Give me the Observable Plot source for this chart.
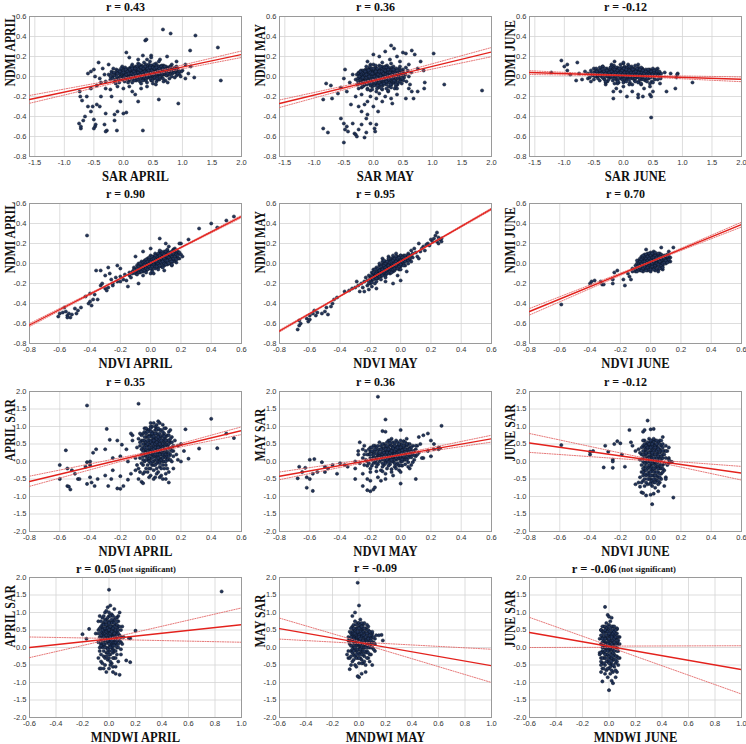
<!DOCTYPE html>
<html><head><meta charset="utf-8">
<script src="https://cdn.jsdelivr.net/npm/d3@7"></script>
<script src="https://cdn.jsdelivr.net/npm/@observablehq/plot@0.6"></script>
<style>
body{margin:0;background:#fff;overflow:hidden}
#grid{position:relative;width:746px;height:744px}
#grid>div{position:absolute}
</style></head><body><div id="grid"></div>
<script>
// ---- tick values ----
const sarTicks = [-1.5, -1.0, -0.5, 0.0, 0.5, 1.0, 1.5, 2.0];
const ndviTicks = [-0.8, -0.6, -0.4, -0.2, 0.0, 0.2, 0.4, 0.6];
const mndwiTicks = [-0.6, -0.4, -0.2, 0.0, 0.2, 0.4, 0.6, 0.8, 1.0];
const ndmiTicks = [-0.8, -0.6, -0.4, -0.2, 0.0, 0.2, 0.4, 0.6];
const sarYTicks = [-2.0, -1.5, -1.0, -0.5, 0.0, 0.5, 1.0, 1.5, 2.0];

// ---- panel titles ----
const titles = ["r = 0.43", "r = 0.36", "r = -0.12", "r = 0.90", "r = 0.95", "r = 0.70",
  "r = 0.35", "r = 0.36", "r = -0.12", "r = 0.05", "r = -0.09", "r = -0.06"];
const notSignificant = [false, false, false, false, false, false, false, false, false, true, false, true];
const xLabels = ["SAR APRIL", "SAR MAY", "SAR JUNE", "NDVI APRIL", "NDVI MAY", "NDVI JUNE",
  "NDVI APRIL", "NDVI MAY", "NDVI JUNE", "MNDWI APRIL", "MNDWI MAY", "MNDWI JUNE"];
const yLabels = ["NDMI APRIL", "NDMI MAY", "NDMI JUNE", "NDMI APRIL", "NDMI MAY", "NDMI JUNE",
  "APRIL SAR", "MAY SAR", "JUNE SAR", "APRIL SAR", "MAY SAR", "JUNE SAR"];

// ---- observations (x, y pairs): spread points, then the dense core ----
const sarApr_ndmiApr = [0.67,0.47, 0.8,0.43, 1.22,0.41, 0.37,0.36, 0.39,0.37, 1.13,0.26, 1.6,0.29, 0.05,0.24, 0.47,0.21, 0.47,0.19, 0.33,0.21, 0.74,0.2, 0.1,0.19, 0.4,0.17, 0.62,0.17, 0.25,0.17, 0.9,0.15, 1.05,0.12,
-0.42,0.14, -0.6,0.03, -0.5,0.07, -0.35,0.08, -0.25,0.12, -0.48,0.0, -0.4,-0.02, -0.55,0.05, -0.32,0.02, -0.3,-0.05,
1.65,-0.04, 1.2,-0.01, 1.14,0.1, 1.0,0.06, 0.93,-0.27, 0.6,-0.23, 1.1,0.03, 1.05,-0.02, 0.97,0.0,
-0.75,-0.47, -0.72,-0.52, -0.72,-0.5, -0.7,-0.24, -0.73,-0.2, -0.74,-0.15, -0.62,-0.2, -0.65,-0.4, -0.68,-0.44, -0.6,-0.3, -0.55,-0.35, -0.5,-0.52, -0.48,-0.5, -0.47,-0.48, -0.5,-0.43, -0.52,-0.3, -0.45,-0.28, -0.4,-0.3, -0.38,-0.2, -0.3,-0.37, -0.32,-0.48, -0.28,-0.54, -0.3,-0.55, -0.15,-0.44, -0.15,-0.38, -0.11,-0.54, -0.1,-0.35, 0.0,-0.37, 0.05,-0.36, -0.05,-0.25, 0.33,-0.54, -0.22,-0.13, -0.3,-0.12, -0.38,-0.06, -0.45,-0.09, -0.55,-0.12, -0.2,-0.2, 0.15,-0.15, 0.2,-0.18, 0.3,-0.12, 0.4,-0.1, 0.55,-0.08, 0.25,-0.25, -0.1,-0.1, 0.0,-0.12, 0.1,-0.1,
-0.25,0.02, -0.22,-0.03, -0.2,0.05, -0.18,0.0, -0.15,-0.05, -0.14,0.03, -0.12,0.07, -0.1,-0.01, -0.08,0.04, -0.07,-0.06, -0.05,0.01, -0.04,0.06, -0.02,-0.03, 0.0,0.02, 0.01,0.08, 0.02,-0.05, 0.04,0.0, 0.05,0.04, 0.06,-0.02, 0.08,0.06, 0.09,0.01, 0.1,-0.04, 0.11,0.03, 0.12,0.09, 0.13,-0.01, 0.14,0.05, 0.15,-0.06, 0.16,0.02, 0.17,0.07, 0.18,-0.02, 0.19,0.04, 0.2,0.0, 0.21,0.1, 0.22,-0.04, 0.23,0.03, 0.24,0.06, 0.25,-0.01, 0.26,0.01, 0.27,0.08, 0.28,-0.05, 0.29,0.04, 0.3,0.02, 0.31,0.11, 0.32,-0.02, 0.33,0.05, 0.34,0.0, 0.35,0.07, 0.36,-0.03, 0.37,0.03, 0.38,0.09, 0.39,0.01, 0.4,-0.06, 0.41,0.05, 0.42,0.02, 0.43,0.12, 0.44,-0.01, 0.45,0.06, 0.46,0.03, 0.47,-0.04, 0.48,0.08, 0.49,0.0, 0.5,0.04, 0.51,0.1, 0.52,-0.02, 0.53,0.06, 0.54,0.02, 0.55,0.13, 0.56,-0.05, 0.57,0.04, 0.58,0.08, 0.59,0.01, 0.6,0.05, 0.61,-0.03, 0.62,0.1, 0.63,0.03, 0.64,0.07, 0.65,-0.01, 0.66,0.05, 0.68,0.11, 0.69,0.02, 0.7,0.08, 0.71,-0.04, 0.72,0.05, 0.74,0.01, 0.75,0.09, 0.77,0.04, 0.78,-0.02, 0.8,0.07, 0.82,0.12, 0.83,0.03, 0.85,0.06, 0.87,-0.01, 0.88,0.09, 0.9,0.04, 0.92,0.07, 0.95,0.02, 0.98,0.05,
0.02,0.03, 0.07,0.01, 0.12,0.04, 0.17,0.0, 0.22,0.05, 0.27,0.03, 0.32,0.06, 0.37,0.0, 0.42,0.04, 0.47,0.07, 0.52,0.03, 0.57,0.0, 0.62,0.05, 0.67,0.02, 0.72,0.07, -0.03,0.0, 0.08,-0.06, 0.18,0.09, 0.28,0.1, 0.38,-0.04, 0.48,0.11, 0.58,-0.03, 0.68,-0.05, 0.15,0.12, 0.25,0.13, 0.35,0.14, 0.45,0.15, 0.6,0.15, -0.13,-0.07, -0.02,0.1, 0.3,-0.07, 0.5,-0.07, 0.75,-0.06, 0.9,0.1];
const sarApr_ndmiAprCore = [-0.2,0.03, -0.18,-0.02, -0.17,0.08, -0.15,0.01, -0.13,-0.03, -0.12,0.04, -0.11,0.0, -0.09,0.06, -0.08,-0.03, -0.06,0.03, -0.05,-0.01, -0.04,0.08, -0.03,0.04, -0.01,-0.02, 0.0,0.06, 0.01,0.0, 0.03,0.09, 0.03,-0.02, 0.04,0.04, 0.06,0.07, 0.06,0.02, 0.07,-0.03, 0.08,0.03, 0.09,0.08, 0.1,0.0, 0.1,0.05, 0.11,-0.02, 0.12,0.02, 0.13,0.07, 0.14,0.0, 0.14,0.1, 0.15,0.03, 0.16,-0.03, 0.16,0.06, 0.17,0.04, 0.18,0.01, 0.19,0.08, 0.19,-0.04, 0.2,0.05, 0.21,0.02, 0.21,-0.01, 0.22,0.07, 0.23,0.0, 0.23,0.1, 0.24,0.03, 0.25,0.06, 0.25,-0.03, 0.26,0.04, 0.27,0.01, 0.27,0.12, 0.28,0.06, 0.29,-0.02, 0.29,0.09, 0.3,0.04, 0.31,0.0, 0.31,0.07, 0.32,0.02, 0.33,0.1, 0.33,-0.04, 0.34,0.05, 0.35,0.02, 0.35,-0.01, 0.36,0.08, 0.37,0.05, 0.38,0.02, 0.38,0.12, 0.39,-0.02, 0.4,0.07, 0.4,0.03, 0.41,0.1, 0.42,-0.01, 0.42,0.06, 0.43,0.03, 0.44,0.09, 0.44,0.0, 0.45,0.04, 0.46,0.11, 0.46,-0.02, 0.47,0.05, 0.48,0.02, 0.49,0.09, 0.49,-0.04, 0.5,0.06, 0.5,0.01, 0.51,0.04, 0.52,0.12, 0.52,0.07, 0.53,-0.01, 0.54,0.05, 0.55,0.09, 0.55,0.02, 0.56,0.06, 0.57,-0.02, 0.57,0.11, 0.58,0.04, 0.59,0.07, 0.6,0.02, 0.6,0.1, 0.61,0.05, 0.62,0.0, 0.63,0.08, 0.64,0.04, 0.65,0.11, 0.65,0.02, 0.66,0.07, 0.67,-0.02, 0.68,0.05, 0.69,0.09, 0.7,0.03, 0.71,0.06, 0.72,0.1, 0.73,0.01, 0.74,0.06, 0.76,0.04, 0.77,0.08, 0.78,0.02, 0.79,0.1, 0.81,0.05, 0.82,0.0, 0.84,0.08, 0.86,0.04, 0.88,0.06, 0.9,0.01, 0.91,0.08, 0.94,0.05,
0.0,0.04, 0.02,0.0, 0.04,0.07, 0.05,0.02, 0.07,0.05, 0.09,0.03, 0.11,0.07, 0.12,0.0, 0.14,0.03, 0.15,0.08, 0.17,0.02, 0.18,0.05, 0.2,0.08, 0.2,0.03, 0.22,0.01, 0.24,0.08, 0.25,0.04, 0.26,0.07, 0.28,0.02, 0.29,0.06, 0.3,0.09, 0.32,0.04, 0.33,0.01, 0.34,0.08, 0.36,0.05, 0.37,0.1, 0.39,0.04, 0.4,0.0, 0.41,0.08, 0.43,0.06, 0.45,0.01, 0.45,0.09, 0.47,0.03, 0.48,0.06, 0.5,0.09, 0.51,0.02, 0.53,0.08, 0.54,0.04, 0.56,0.09, 0.58,0.06, 0.59,0.03, 0.61,0.08, 0.62,0.03, 0.64,0.1, 0.66,0.03, 0.67,0.08, 0.69,0.05, 0.7,0.1, 0.73,0.07, 0.75,0.03, 0.78,0.06, 0.8,0.1, -0.1,0.03, -0.06,0.05, -0.16,0.04, -0.22,0.0, 0.86,0.08, 0.92,0.03];

const sarMay_ndmiMay = [0.3,0.31, 0.35,0.28, 0.0,0.22, 0.1,0.2, 0.4,0.2, 0.5,0.24, 0.55,0.23, 0.65,0.26, 0.7,0.22, 1.02,0.23, 0.2,0.25, 0.28,0.17, 0.45,0.15, 0.6,0.12, 0.75,0.08, 0.85,0.06, 0.8,0.15, -0.1,0.15, -0.05,0.12, 0.15,0.14,
1.84,-0.14, 1.2,-0.08, 0.87,-0.06, 0.86,-0.12, 0.68,-0.22, 0.55,-0.22, 0.75,-0.15, 0.65,-0.15,
-0.85,-0.23, -0.8,-0.07, -0.72,-0.09, -0.6,-0.17, -0.55,-0.11, -0.48,0.07, -0.5,-0.02, -0.4,-0.06, -0.35,0.02, -0.45,-0.15, -0.7,-0.22,
-0.55,-0.42, -0.5,-0.47, -0.48,-0.53, -0.5,-0.66, -0.45,-0.5, -0.43,-0.55, -0.85,-0.52, -0.77,-0.56, -0.35,-0.47, -0.32,-0.57, -0.3,-0.58, -0.28,-0.6, -0.25,-0.53, -0.2,-0.48, -0.15,-0.61, -0.12,-0.56, -0.1,-0.38, -0.05,-0.47, 0.02,-0.52, 0.05,-0.48, 0.03,-0.55, -0.2,-0.35, -0.25,-0.3, -0.15,-0.28, -0.1,-0.25, 0.0,-0.3, 0.05,-0.22, -0.3,-0.2, -0.2,-0.18, -0.05,-0.2, 0.1,-0.17, 0.15,-0.25, 0.2,-0.2, 0.3,-0.22, 0.32,-0.27, 0.25,-0.15, -0.38,-0.28, -0.12,-0.42, 0.08,-0.35, 0.4,-0.18,
-0.3,-0.03, -0.28,0.02, -0.27,-0.08, -0.25,0.04, -0.24,-0.01, -0.22,-0.06, -0.21,0.06, -0.2,-0.11, -0.19,0.01, -0.18,-0.04, -0.17,0.05, -0.16,-0.09, -0.15,0.0, -0.14,-0.03, -0.13,0.07, -0.12,-0.06, -0.11,0.02, -0.1,-0.12, -0.09,0.04, -0.08,-0.02, -0.07,0.08, -0.06,-0.07, -0.05,0.01, -0.04,-0.04, -0.03,0.05, -0.02,-0.1, -0.01,0.0, 0.0,0.06, 0.01,-0.05, 0.02,0.03, 0.03,-0.02, 0.04,0.09, 0.05,-0.08, 0.06,0.01, 0.07,-0.04, 0.08,0.05, 0.09,-0.11, 0.1,0.0, 0.11,0.07, 0.12,-0.06, 0.13,0.03, 0.14,-0.02, 0.15,0.1, 0.16,-0.09, 0.17,0.02, 0.18,-0.04, 0.19,0.06, 0.2,-0.01, 0.21,-0.07, 0.22,0.04, 0.23,0.11, 0.24,-0.03, 0.25,0.01, 0.26,-0.1, 0.27,0.07, 0.28,-0.05, 0.29,0.03, 0.3,0.0, 0.31,0.09, 0.32,-0.06, 0.33,0.05, 0.34,-0.02, 0.35,0.02, 0.36,-0.12, 0.37,0.07, 0.38,-0.04, 0.4,0.04, 0.41,-0.08, 0.42,0.01, 0.44,0.08, 0.45,-0.03, 0.47,0.03, 0.48,-0.07, 0.5,0.05, 0.52,-0.01, 0.54,0.02, 0.56,-0.05, 0.58,0.06, 0.6,0.0, 0.62,-0.08, 0.64,0.04,
-0.2,0.0, -0.15,-0.05, -0.1,0.03, -0.05,-0.03, 0.0,0.0, 0.05,0.03, 0.1,-0.03, 0.15,0.04, 0.2,0.02, 0.25,-0.05, 0.3,0.05, 0.35,-0.06, 0.4,0.0, -0.12,0.1, 0.0,0.12, 0.1,0.11, 0.2,0.1, 0.3,0.13, -0.05,-0.14, 0.05,-0.15, 0.15,-0.13, 0.25,-0.14, 0.4,-0.12, -0.25,-0.12, 0.45,0.1, 0.55,0.09, 0.6,-0.12];
const sarMay_ndmiMayCore = [-0.26,-0.02, -0.25,0.03, -0.24,-0.06, -0.23,0.01, -0.22,-0.03, -0.21,0.04, -0.2,-0.07, -0.2,0.02, -0.19,-0.02, -0.18,0.06, -0.17,-0.05, -0.17,0.0, -0.16,0.03, -0.15,-0.08, -0.15,0.06, -0.14,0.01, -0.13,-0.04, -0.13,0.04, -0.12,-0.01, -0.11,0.06, -0.11,-0.08, -0.1,0.01, -0.09,-0.04, -0.09,0.07, -0.08,0.02, -0.07,-0.06, -0.07,0.04, -0.06,-0.01, -0.05,0.07, -0.05,-0.09, -0.04,0.02, -0.03,-0.05, -0.03,0.08, -0.02,0.0, -0.01,0.04, -0.01,-0.07, 0.0,0.02, 0.01,-0.02, 0.01,0.07, 0.02,-0.09, 0.03,0.04, 0.03,0.0, 0.04,-0.05, 0.05,0.06, 0.05,0.01, 0.06,-0.03, 0.07,0.08, 0.07,0.03, 0.08,-0.07, 0.09,0.01, 0.09,0.05, 0.1,-0.02, 0.11,0.03, 0.11,-0.09, 0.12,0.06, 0.13,-0.04, 0.13,0.01, 0.14,0.08, 0.15,-0.01, 0.15,-0.07, 0.16,0.04, 0.17,0.0, 0.17,0.07, 0.18,-0.05, 0.19,0.02, 0.19,0.09, 0.2,-0.03, 0.21,0.05, 0.21,0.0, 0.22,-0.08, 0.23,0.03, 0.23,0.07, 0.24,-0.02, 0.25,0.04, 0.26,0.0, 0.26,0.09, 0.27,-0.06, 0.28,0.02, 0.29,0.06, 0.29,-0.03, 0.3,0.03, 0.31,-0.08, 0.32,0.01, 0.32,0.07, 0.33,-0.03, 0.34,0.04, 0.35,0.0, 0.36,0.06, 0.37,-0.05, 0.38,0.02, 0.39,0.08, 0.4,-0.02, 0.41,0.03, 0.42,-0.06, 0.43,0.05, 0.44,0.0, 0.46,0.04, 0.47,-0.03, 0.49,0.01, 0.5,0.07, 0.51,-0.04, 0.53,0.03, -0.18,-0.1, -0.1,-0.13, -0.02,-0.13, 0.06,-0.12, 0.14,-0.12, 0.22,-0.12, 0.3,-0.11, 0.38,-0.1, -0.06,0.1, 0.04,0.11, 0.12,0.1, 0.22,0.09, 0.34,0.1,
-0.2,0.04, -0.18,-0.01, -0.16,-0.05, -0.14,0.05, -0.12,0.02, -0.1,-0.05, -0.08,0.06, -0.07,0.0, -0.05,0.04, -0.04,-0.07, -0.02,0.03, -0.01,-0.03, 0.0,0.08, 0.02,0.0, 0.03,-0.06, 0.04,0.05, 0.06,-0.01, 0.07,-0.09, 0.08,0.02, 0.1,0.05, 0.1,-0.06, 0.12,0.01, 0.13,-0.08, 0.14,0.05, 0.16,-0.03, 0.17,0.03, 0.18,-0.07, 0.2,0.06, 0.21,0.02, 0.22,-0.05, 0.24,0.01, 0.25,0.07, 0.26,-0.03, 0.28,0.04, 0.29,-0.08, 0.31,0.02, 0.32,-0.02, 0.34,0.07, 0.35,-0.04, 0.37,0.03, 0.38,-0.08, 0.4,0.06, 0.41,-0.01, 0.43,0.02, 0.45,-0.05, 0.47,0.06, 0.49,-0.02, -0.24,0.0, -0.22,0.05, -0.26,-0.05];

const sarJun_ndmiJun = [-1.22,0.04, -1.05,0.16, -1.0,0.1, -0.95,0.12, -0.95,0.06, -0.9,0.02, -0.78,0.14, -0.75,0.03, -0.8,-0.04, -0.7,-0.03, -0.65,0.05, 0.92,0.03, 0.91,0.02, 0.9,-0.01, 0.88,-0.12, 1.17,-0.06, 0.73,-0.15, 0.8,0.03, 0.7,0.04, 0.62,-0.07, 0.47,-0.41, -0.17,-0.22, -0.17,-0.15, 0.06,-0.2, -0.05,-0.15, 0.25,-0.21, 0.25,-0.18, 0.33,-0.2, 0.35,-0.12, 0.45,-0.18, 0.47,-0.2, 0.5,-0.15, 0.45,-0.1, 0.15,-0.15, 0.0,-0.1, -0.3,-0.08, -0.15,0.15, 0.0,0.13, 0.08,0.12, 0.25,0.12, -0.35,0.1, -0.5,0.08, 0.15,-0.08, 0.3,-0.08, -0.12,-0.12, 0.58,0.08, 0.6,0.02, 0.5,0.06, -0.55,0.03, -0.6,-0.02,
-0.6,0.03, -0.57,-0.01, -0.55,0.06, -0.52,0.01, -0.5,-0.03, -0.48,0.05, -0.46,0.08, -0.44,0.0, -0.42,0.04, -0.4,-0.04, -0.38,0.07, -0.36,0.02, -0.35,0.1, -0.33,-0.02, -0.31,0.05, -0.3,0.01, -0.28,0.08, -0.27,-0.05, -0.25,0.03, -0.24,0.06, -0.22,-0.01, -0.21,0.09, -0.2,0.02, -0.18,-0.04, -0.17,0.05, -0.16,0.11, -0.15,0.0, -0.14,0.07, -0.12,-0.03, -0.11,0.04, -0.1,0.09, -0.09,0.01, -0.08,-0.06, -0.07,0.06, -0.06,0.03, -0.05,0.12, -0.04,-0.02, -0.03,0.05, -0.02,0.08, -0.01,0.0, 0.0,0.04, 0.01,-0.05, 0.02,0.1, 0.03,0.02, 0.04,0.06, 0.05,-0.03, 0.06,0.03, 0.07,0.09, 0.08,-0.01, 0.09,0.05, 0.1,0.01, 0.11,-0.06, 0.12,0.07, 0.13,0.02, 0.14,0.1, 0.15,-0.02, 0.16,0.04, 0.17,0.0, 0.18,0.08, 0.19,-0.04, 0.2,0.03, 0.21,0.06, 0.22,-0.01, 0.23,0.05, 0.24,0.01, 0.25,0.09, 0.26,-0.05, 0.27,0.03, 0.28,0.0, 0.29,0.06, 0.3,-0.03, 0.31,0.04, 0.32,0.08, 0.33,-0.01, 0.34,0.02, 0.35,0.05, 0.37,-0.04, 0.38,0.03, 0.4,0.0, 0.41,0.06, 0.43,-0.02, 0.45,0.04, 0.46,0.01, 0.48,-0.05, 0.5,0.03, 0.52,-0.01, 0.54,0.05, 0.56,0.02, 0.58,-0.03, 0.6,0.04, 0.62,0.0, 0.64,0.03,
-0.45,0.02, -0.35,0.04, -0.25,0.0, -0.15,0.03, -0.05,0.02, 0.05,0.01, 0.15,0.06, 0.25,0.02, 0.35,0.0, 0.45,0.07, -0.3,-0.06, -0.1,-0.07, 0.1,-0.08, 0.3,-0.07, 0.5,-0.06, -0.2,0.12, 0.0,0.14, 0.2,0.11, -0.55,-0.05, 0.55,0.07];
const sarJun_ndmiJunCore = [-0.5,0.04, -0.48,0.0, -0.46,0.03, -0.44,0.06, -0.43,-0.02, -0.41,0.02, -0.39,0.05, -0.37,0.0, -0.36,0.07, -0.34,0.03, -0.32,-0.03, -0.31,0.08, -0.29,0.04, -0.28,0.0, -0.26,0.06, -0.25,-0.03, -0.23,0.03, -0.22,0.07, -0.21,0.0, -0.19,0.05, -0.18,0.02, -0.17,0.08, -0.16,-0.02, -0.15,0.05, -0.14,0.02, -0.13,0.09, -0.12,0.0, -0.11,0.06, -0.1,0.03, -0.09,-0.03, -0.08,0.07, -0.07,0.02, -0.06,0.0, -0.05,0.05, -0.04,0.09, -0.03,0.02, -0.02,-0.03, -0.01,0.05, 0.0,0.08, 0.0,0.01, 0.01,0.04, 0.02,-0.02, 0.03,0.07, 0.04,0.01, 0.05,0.05, 0.06,0.09, 0.07,0.0, 0.08,0.04, 0.09,0.07, 0.1,-0.03, 0.11,0.03, 0.12,0.0, 0.13,0.06, 0.14,0.02, 0.15,0.08, 0.16,-0.01, 0.17,0.04, 0.18,0.02, 0.19,0.07, 0.2,-0.02, 0.21,0.03, 0.22,0.06, 0.23,0.0, 0.24,0.04, 0.25,0.07, 0.26,0.01, 0.27,-0.02, 0.28,0.05, 0.29,0.02, 0.3,0.06, 0.31,0.0, 0.32,0.03, 0.33,0.07, 0.34,-0.03, 0.35,0.02, 0.36,0.05, 0.37,0.0, 0.38,0.07, 0.39,0.03, 0.4,-0.02, 0.42,0.04, 0.43,0.01, 0.44,0.06, 0.46,-0.01, 0.47,0.03, 0.49,0.05, 0.5,0.0, 0.52,0.04, 0.53,-0.03, 0.55,0.02, 0.57,0.05, 0.59,0.01, 0.61,0.05, 0.63,-0.02, -0.4,0.09, -0.3,-0.05, -0.2,0.1, -0.1,-0.05, 0.0,-0.06, 0.1,0.1, 0.2,-0.05, 0.3,0.09, 0.4,-0.05, 0.5,0.08, -0.15,-0.07, 0.05,-0.05, 0.25,-0.06, 0.45,-0.07,
-0.45,0.05, -0.42,0.01, -0.4,0.06, -0.37,0.03, -0.35,-0.01, -0.33,0.05, -0.3,0.03, -0.28,0.06, -0.26,0.01, -0.24,0.04, -0.22,0.09, -0.2,0.05, -0.19,0.0, -0.17,0.03, -0.15,0.07, -0.13,0.04, -0.12,0.01, -0.1,0.06, -0.08,0.03, -0.07,0.08, -0.05,0.0, -0.04,0.04, -0.02,0.06, -0.01,0.02, 0.01,0.08, 0.02,0.04, 0.04,0.0, 0.05,0.07, 0.07,0.04, 0.08,0.02, 0.1,0.06, 0.11,0.0, 0.13,0.04, 0.15,0.02, 0.16,0.07, 0.18,0.04, 0.19,0.01, 0.21,0.05, 0.23,0.08, 0.24,0.02, 0.26,0.04, 0.28,0.07, 0.29,0.01, 0.31,0.04, 0.33,0.06, 0.35,0.03, 0.36,-0.01, 0.38,0.05, 0.4,0.02, 0.42,0.07, 0.44,0.02, 0.47,0.05, 0.49,0.02, 0.52,0.06];

const ndviApr_ndmiApr = [0.55,0.47, 0.5,0.43, 0.44,0.36, 0.4,0.4, 0.32,0.35, 0.25,0.24, 0.2,0.2, 0.19,0.2, 0.18,0.12, 0.2,0.09, 0.18,0.1, 0.21,0.07, 0.16,0.15, 0.06,0.25, -0.42,0.28, -0.22,-0.02, -0.2,-0.05, -0.28,-0.04,
-0.61,-0.53, -0.6,-0.5, -0.58,-0.49, -0.56,-0.48, -0.55,-0.52, -0.54,-0.5, -0.53,-0.54, -0.55,-0.54, -0.52,-0.51, -0.5,-0.45, -0.49,-0.5, -0.48,-0.47, -0.46,-0.44, -0.57,-0.44, -0.43,-0.33, -0.41,-0.4, -0.4,-0.38, -0.39,-0.42, -0.38,-0.36, -0.4,-0.3, -0.37,-0.31, -0.36,-0.07, -0.35,-0.36, -0.33,-0.22, -0.32,-0.2, -0.3,-0.25, -0.29,-0.27, -0.28,-0.24, -0.26,-0.16, -0.25,-0.2, -0.25,-0.22, -0.23,-0.14, -0.22,-0.18, -0.2,-0.13, -0.2,-0.18, -0.18,-0.16, -0.17,-0.11, -0.16,-0.17, -0.15,-0.23, -0.14,-0.12, -0.14,-0.09, -0.13,-0.14, -0.12,-0.1, -0.33,-0.07, -0.3,-0.12, -0.27,-0.1, -0.08,-0.2, -0.05,-0.12, 0.0,-0.1, 0.02,-0.1, -0.1,0.07, -0.05,0.12, 0.0,0.15, 0.1,0.2, 0.12,0.17, 0.15,0.14, 0.09,-0.07, 0.14,-0.02, 0.17,0.01, 0.19,0.05,
-0.12,-0.08, -0.11,-0.04, -0.1,-0.1, -0.1,-0.06, -0.09,-0.02, -0.09,-0.08, -0.08,-0.05, -0.08,0.0, -0.07,-0.09, -0.07,-0.03, -0.06,0.02, -0.06,-0.06, -0.05,-0.01, -0.05,-0.08, -0.04,0.03, -0.04,-0.04, -0.03,0.0, -0.03,-0.07, -0.02,0.05, -0.02,-0.02, -0.01,0.01, -0.01,-0.05, 0.0,0.04, 0.0,-0.02, 0.0,0.08, 0.01,0.0, 0.01,-0.06, 0.02,0.03, 0.02,0.07, 0.02,-0.03, 0.03,0.01, 0.03,0.1, 0.03,-0.05, 0.04,0.05, 0.04,-0.01, 0.05,0.08, 0.05,0.02, 0.05,-0.04, 0.06,0.06, 0.06,0.0, 0.06,0.11, 0.07,0.03, 0.07,-0.03, 0.08,0.08, 0.08,0.05, 0.08,0.0, 0.09,0.12, 0.09,0.03, 0.09,-0.02, 0.1,0.07, 0.1,0.1, 0.1,0.01, 0.11,0.05, 0.11,0.13, 0.11,-0.01, 0.12,0.08, 0.12,0.03, 0.13,0.11, 0.13,0.06, 0.13,0.0, 0.14,0.09, 0.14,0.04, 0.15,0.13, 0.15,0.07, 0.16,0.1, 0.16,0.03, 0.17,0.12, 0.17,0.07, 0.18,0.05, 0.04,0.0, 0.03,0.04, 0.01,0.02, -0.01,-0.01, 0.06,0.04, 0.07,0.07, 0.09,0.06, 0.11,0.09, 0.12,0.05, -0.04,-0.03, -0.06,-0.03, 0.0,0.01, 0.02,0.0, 0.05,0.05, 0.08,0.03, 0.1,0.04, 0.14,0.07, -0.02,0.02, 0.04,0.08, 0.07,0.1, -0.08,-0.07, -0.03,-0.04, 0.15,0.02];
const ndviApr_ndmiAprCore = [-0.1,-0.08, -0.09,-0.05, -0.08,-0.09, -0.08,-0.03, -0.07,-0.06, -0.07,0.0, -0.06,-0.08, -0.06,-0.04, -0.05,-0.06, -0.05,0.01, -0.05,-0.03, -0.04,-0.07, -0.04,-0.01, -0.04,0.02, -0.03,-0.05, -0.03,0.01, -0.03,0.04, -0.02,-0.06, -0.02,-0.01, -0.02,0.02, -0.01,-0.03, -0.01,0.04, -0.01,0.06, 0.0,-0.05, 0.0,0.0, 0.0,0.02, 0.01,-0.03, 0.01,0.04, 0.01,0.07, 0.02,-0.01, 0.02,0.01, 0.02,0.05, 0.03,-0.03, 0.03,0.02, 0.03,0.06, 0.04,0.02, 0.04,0.07, 0.04,-0.03, 0.05,0.0, 0.05,0.04, 0.05,0.1, 0.06,0.02, 0.06,0.08, 0.06,-0.02, 0.07,0.05, 0.07,0.01, 0.07,0.12, 0.08,0.02, 0.08,0.07, 0.08,0.1, 0.09,0.0, 0.09,0.05, 0.09,0.09, 0.1,0.03, 0.1,0.12, 0.1,-0.01, 0.11,0.07, 0.11,0.03, 0.12,0.11, 0.12,0.0, 0.12,0.06, 0.13,0.04, 0.13,0.09, 0.14,0.02, 0.14,0.12, 0.15,0.05, 0.15,0.1, 0.16,0.07, 0.16,0.13, 0.17,0.04, 0.17,0.09, 0.18,0.08, 0.19,0.11, -0.11,-0.06, -0.09,-0.11, 0.03,0.08, 0.01,-0.08, 0.05,-0.06, 0.08,-0.04, 0.11,0.14, 0.06,0.13, -0.03,-0.09, 0.14,-0.01];

const ndviMay_ndmiMay = [0.24,0.31, 0.23,0.28, 0.25,0.26, 0.26,0.24, 0.27,0.22, 0.27,0.25, 0.22,0.25, 0.2,0.24, 0.21,0.22, 0.24,0.22, 0.25,0.2, 0.18,0.2, 0.19,0.18, 0.17,0.19, 0.15,0.17, 0.14,0.15, 0.12,0.2, 0.16,0.13, 0.13,0.12, 0.1,0.11, 0.09,0.15, 0.07,0.13, 0.11,0.07, 0.12,0.05, 0.05,0.1, 0.06,0.04,
-0.68,-0.66, -0.67,-0.62, -0.66,-0.6, -0.67,-0.57, -0.62,-0.55, -0.61,-0.58, -0.6,-0.52, -0.6,-0.56, -0.58,-0.5, -0.57,-0.47, -0.56,-0.52, -0.55,-0.49, -0.52,-0.5, -0.5,-0.48, -0.49,-0.44, -0.48,-0.51, -0.46,-0.43, -0.45,-0.4, -0.44,-0.36, -0.42,-0.34, -0.37,-0.28, -0.34,-0.27, -0.32,-0.25, -0.3,-0.24, -0.29,-0.18, -0.28,-0.22, -0.27,-0.28, -0.26,-0.2, -0.25,-0.24, -0.24,-0.18, -0.24,-0.28, -0.23,-0.14, -0.22,-0.22, -0.21,-0.26, -0.2,-0.16, -0.19,-0.23, -0.18,-0.12, -0.17,-0.2, -0.16,-0.25, 0.0,-0.17, -0.05,-0.2, -0.1,-0.18, -0.15,-0.15, -0.12,0.05, -0.08,0.07, -0.03,0.1, 0.0,0.08, 0.02,0.02, -0.02,-0.12, 0.04,-0.08,
-0.22,-0.17, -0.21,-0.12, -0.2,-0.2, -0.2,-0.14, -0.19,-0.09, -0.19,-0.17, -0.18,-0.13, -0.18,-0.06, -0.17,-0.15, -0.17,-0.1, -0.16,-0.04, -0.16,-0.12, -0.15,-0.08, -0.15,-0.14, -0.14,-0.02, -0.14,-0.1, -0.13,-0.06, -0.13,-0.13, -0.12,-0.01, -0.12,-0.08, -0.11,-0.04, -0.11,-0.11, -0.1,0.02, -0.1,-0.06, -0.1,-0.02, -0.09,-0.09, -0.09,0.0, -0.08,-0.04, -0.08,-0.07, -0.08,0.03, -0.07,-0.01, -0.07,-0.1, -0.06,0.04, -0.06,-0.05, -0.06,-0.02, -0.05,0.0, -0.05,-0.08, -0.05,0.06, -0.04,-0.03, -0.04,0.02, -0.03,0.05, -0.03,-0.05, -0.03,0.0, -0.02,0.07, -0.02,-0.02, -0.01,0.03, -0.01,-0.06, 0.0,0.01, 0.0,0.06, 0.01,-0.01, 0.01,0.04, 0.02,0.08, 0.02,0.02, 0.03,0.05, 0.03,-0.02, 0.04,0.07, 0.04,0.03, 0.05,0.0, 0.05,0.05, 0.06,0.08, 0.07,0.02, 0.08,0.06, 0.08,0.1, -0.12,-0.04, -0.1,-0.1, -0.07,-0.06, -0.04,-0.07, -0.02,0.02, -0.09,-0.03, -0.13,-0.09, -0.16,-0.08, -0.11,-0.07, -0.06,0.0, -0.03,0.03, 0.0,-0.03, -0.14,-0.06, -0.08,-0.01, -0.05,-0.04, -0.01,0.0, -0.11,0.0, -0.15,-0.11, -0.18,-0.1, -0.2,-0.17, -0.07,0.05, -0.12,0.02, 0.02,0.0, -0.02,0.04];
const ndviMay_ndmiMayCore = [-0.2,-0.15, -0.19,-0.12, -0.18,-0.16, -0.18,-0.09, -0.17,-0.13, -0.17,-0.06, -0.16,-0.1, -0.16,-0.15, -0.15,-0.05, -0.15,-0.11, -0.14,-0.13, -0.14,-0.07, -0.13,-0.03, -0.13,-0.1, -0.12,-0.06, -0.12,-0.12, -0.11,-0.02, -0.11,-0.08, -0.1,-0.04, -0.1,-0.12, -0.1,0.0, -0.09,-0.06, -0.09,-0.1, -0.09,0.02, -0.08,-0.02, -0.08,-0.09, -0.07,-0.04, -0.07,0.01, -0.07,-0.08, -0.06,-0.06, -0.06,0.02, -0.06,-0.09, -0.05,-0.03, -0.05,0.03, -0.05,-0.06, -0.04,0.0, -0.04,0.05, -0.04,-0.05, -0.03,-0.02, -0.03,0.02, -0.03,0.07, -0.02,0.0, -0.02,-0.05, -0.02,0.05, -0.01,0.01, -0.01,0.06, -0.01,-0.03, 0.0,0.03, 0.0,-0.01, 0.0,0.08, 0.01,0.02, 0.01,0.06, 0.02,0.04, 0.02,-0.02, 0.03,0.02, 0.03,0.08, 0.04,0.05, 0.05,0.03, 0.05,0.08, 0.06,0.05, 0.07,0.08, -0.21,-0.2, -0.19,-0.19, -0.16,-0.18, -0.13,-0.16, -0.1,-0.14, -0.08,0.05, -0.05,0.08, -0.11,0.03, -0.14,0.0, 0.0,-0.06];

const ndviJun_ndmiJun = [-0.59,-0.41, -0.4,-0.2, -0.39,-0.18, -0.37,-0.17, -0.33,-0.18, -0.32,-0.21, -0.31,-0.21, -0.25,-0.2, -0.25,-0.16, -0.24,-0.09, -0.22,-0.07, -0.18,-0.16, -0.17,-0.22, -0.15,-0.1, -0.14,-0.13, -0.13,-0.16, -0.12,-0.08, -0.12,-0.05, 0.12,0.12, 0.13,0.06, 0.15,0.16, 0.13,0.02, 0.12,0.02, 0.1,0.03, 0.11,0.05, 0.07,0.16, -0.03,0.14, 0.02,0.12, 0.05,-0.08, 0.08,-0.06, -0.1,-0.08,
-0.1,-0.06, -0.1,-0.02, -0.09,-0.08, -0.09,0.0, -0.08,-0.04, -0.08,0.03, -0.07,-0.07, -0.07,-0.01, -0.07,0.05, -0.06,-0.05, -0.06,0.02, -0.06,0.07, -0.05,-0.08, -0.05,-0.02, -0.05,0.04, -0.04,0.09, -0.04,0.0, -0.04,-0.06, -0.03,0.03, -0.03,-0.03, -0.03,0.07, -0.02,-0.07, -0.02,0.01, -0.02,0.05, -0.02,0.1, -0.01,-0.04, -0.01,0.03, -0.01,0.08, 0.0,-0.08, 0.0,-0.01, 0.0,0.05, 0.0,0.11, 0.01,-0.05, 0.01,0.02, 0.01,0.08, 0.02,-0.03, 0.02,0.04, 0.02,0.1, 0.03,-0.07, 0.03,0.0, 0.03,0.06, 0.04,-0.02, 0.04,0.03, 0.04,0.09, 0.05,-0.06, 0.05,0.01, 0.05,0.06, 0.06,-0.03, 0.06,0.04, 0.06,0.1, 0.07,-0.05, 0.07,0.0, 0.07,0.07, 0.08,0.02, 0.08,0.05, 0.08,-0.02, 0.09,0.08, 0.09,0.03, 0.1,0.0, 0.1,0.06, 0.11,0.04, 0.11,0.09, 0.12,0.07, -0.08,-0.06, -0.05,0.01, -0.03,0.0, -0.01,0.0, 0.0,0.02, 0.02,0.0, 0.03,0.03, 0.05,0.03, 0.07,0.03, -0.06,-0.02, -0.02,-0.02, 0.01,0.05, 0.04,0.06, 0.06,0.01, -0.04,0.04, 0.02,0.07, 0.0,-0.04, -0.03,-0.05, 0.03,-0.04, 0.05,0.08, -0.01,0.06, 0.01,-0.02];
const ndviJun_ndmiJunCore = [-0.08,-0.02, -0.08,0.01, -0.07,-0.04, -0.07,0.02, -0.06,-0.07, -0.06,0.0, -0.06,0.04, -0.05,-0.05, -0.05,0.06, -0.05,0.02, -0.04,-0.03, -0.04,0.02, -0.04,0.07, -0.03,-0.07, -0.03,-0.01, -0.03,0.05, -0.03,0.09, -0.02,-0.04, -0.02,0.03, -0.02,0.07, -0.01,-0.06, -0.01,0.01, -0.01,0.05, -0.01,0.1, 0.0,-0.06, 0.0,0.03, 0.0,0.08, 0.01,-0.03, 0.01,0.0, 0.01,0.06, 0.01,0.1, 0.02,-0.06, 0.02,0.02, 0.02,0.06, 0.03,-0.02, 0.03,0.04, 0.03,0.08, 0.04,-0.05, 0.04,0.0, 0.04,0.06, 0.05,-0.01, 0.05,0.04, 0.05,0.1, 0.06,-0.05, 0.06,0.07, 0.06,0.02, 0.07,-0.02, 0.07,0.05, 0.07,0.09, 0.08,0.0, 0.08,0.07, 0.09,0.01, 0.09,0.05, 0.1,0.03, 0.1,0.08, 0.11,0.01, 0.11,0.07, -0.09,-0.04, -0.09,0.03, 0.08,-0.04, -0.05,0.08, 0.03,0.11, 0.12,0.04];

const ndviApr_sarApr = [-0.42,1.6, -0.08,1.65, 0.4,1.22, 0.5,0.8, 0.55,0.67, 0.44,0.38, 0.32,0.37, 0.25,0.08, 0.23,0.92, 0.2,0.5, 0.18,0.45, 0.15,0.3, -0.29,0.93, -0.27,0.62, -0.22,0.6, -0.19,0.48, -0.13,0.8, -0.12,0.75, -0.12,0.6, -0.16,0.35, -0.2,0.15, -0.25,0.1, -0.3,0.35, -0.36,0.35, -0.38,0.25, -0.4,0.0, -0.42,-0.02, -0.4,-0.1, -0.43,-0.15, -0.6,-0.1, -0.6,-0.5, -0.56,0.32, -0.55,-0.7, -0.54,-0.72, -0.53,-0.8, -0.5,-0.35, -0.52,-0.25, -0.55,-0.2, -0.48,-0.5, -0.47,-0.5, -0.42,-0.64, -0.4,-0.45, -0.39,-0.6, -0.37,-0.7, -0.35,-0.5, -0.3,-0.4, -0.28,-0.7, -0.26,-0.5, -0.25,-0.25, -0.22,-0.77, -0.2,-0.78, -0.18,-0.7, -0.15,-0.52, -0.13,-0.35, -0.1,-0.25, -0.2,-0.42, -0.08,-0.5, 0.12,-0.6, -0.06,-0.58, -0.05,-0.62, 0.1,-0.5, 0.18,0.05, 0.2,0.0, 0.15,-0.2, 0.17,0.2, 0.22,0.3, -0.09,0.4, -0.1,0.1, -0.15,0.0, -0.09,-0.1,
-0.06,0.6, -0.06,0.2, -0.05,0.4, -0.05,-0.1, -0.05,0.8, -0.04,0.0, -0.04,0.5, -0.04,0.3, -0.03,0.7, -0.03,-0.2, -0.03,0.15, -0.02,0.9, -0.02,0.45, -0.02,0.05, -0.02,-0.3, -0.01,0.6, -0.01,0.25, -0.01,0.35, 0.0,1.1, 0.0,0.75, 0.0,0.1, 0.0,-0.4, 0.0,0.5, 0.01,0.2, 0.01,0.85, 0.01,-0.1, 0.01,0.4, 0.02,0.65, 0.02,0.0, 0.02,0.3, 0.02,-0.25, 0.03,1.0, 0.03,0.55, 0.03,0.15, 0.03,-0.45, 0.04,0.8, 0.04,0.35, 0.04,-0.05, 0.04,0.45, 0.05,1.15, 0.05,0.6, 0.05,0.25, 0.05,-0.3, 0.06,0.9, 0.06,0.4, 0.06,0.05, 0.06,-0.15, 0.07,0.7, 0.07,0.2, 0.07,0.5, 0.07,-0.4, 0.08,1.05, 0.08,0.3, 0.08,0.0, 0.08,0.6, 0.09,0.8, 0.09,0.15, 0.09,-0.2, 0.09,0.45, 0.1,0.95, 0.1,0.35, 0.1,0.1, 0.1,-0.1, 0.11,0.6, 0.11,0.25, 0.11,0.75, 0.12,0.4, 0.12,0.05, 0.12,-0.3, 0.13,0.55, 0.13,0.2, 0.14,0.7, 0.14,0.0, 0.15,0.45, -0.07,0.1, -0.07,0.45, -0.08,-0.2, -0.08,0.65, 0.0,0.3, 0.02,0.45, 0.04,0.15, 0.06,0.55, 0.08,0.2, -0.01,0.05, 0.03,0.7, 0.05,0.45, 0.07,0.35, 0.01,0.6, -0.03,0.35, 0.09,0.55, 0.11,0.45, -0.02,0.2, 0.05,0.0, 0.0,-0.2, 0.1,0.25, 0.04,0.95, -0.04,0.95, 0.12,0.85, -0.05,-0.35, 0.06,-0.45, 0.02,-0.5, 0.08,-0.5, -0.01,0.75, 0.03,0.3, 0.06,0.7];
const ndviApr_sarAprCore = [-0.06,0.35, -0.06,0.75, -0.06,-0.05, -0.05,0.15, -0.05,0.6, -0.05,0.3, -0.04,0.85, -0.04,0.2, -0.04,0.6, -0.04,-0.3, -0.03,0.45, -0.03,0.05, -0.03,0.95, -0.03,0.55, -0.02,0.3, -0.02,0.7, -0.02,-0.1, -0.02,0.6, -0.01,0.1, -0.01,0.5, -0.01,0.9, -0.01,-0.2, 0.0,0.2, 0.0,0.6, 0.0,0.4, 0.0,0.85, 0.01,0.3, 0.01,0.7, 0.01,0.0, 0.01,1.0, 0.02,0.15, 0.02,0.55, 0.02,0.8, 0.02,-0.1, 0.03,0.4, 0.03,0.9, 0.03,0.05, 0.03,0.6, 0.04,0.25, 0.04,0.65, 0.04,-0.2, 0.04,1.05, 0.05,0.15, 0.05,0.5, 0.05,0.75, 0.05,0.35, 0.06,0.0, 0.06,0.25, 0.06,0.65, 0.06,0.8, 0.07,0.1, 0.07,0.45, 0.07,0.9, 0.07,-0.2, 0.08,0.4, 0.08,0.75, 0.08,-0.1, 0.08,0.5, 0.09,0.25, 0.09,0.65, 0.09,0.0, 0.09,0.95, 0.1,0.5, 0.1,0.2, 0.1,0.7, 0.11,0.35, 0.11,0.05, 0.11,-0.2, 0.12,0.6, 0.12,0.25, 0.12,0.75, 0.13,0.35, 0.13,0.05, 0.13,0.9, 0.14,0.3, 0.14,0.55, -0.07,0.55, -0.07,0.8, -0.07,-0.3, 0.0,1.0, 0.02,1.1, 0.06,1.1, -0.01,-0.45, 0.04,-0.35, 0.1,-0.35, 0.15,0.15, 0.16,0.6,
-0.05,0.5, -0.05,0.05, -0.04,0.7, -0.04,0.4, -0.03,0.25, -0.03,0.8, -0.02,0.15, -0.02,0.5, -0.01,0.4, -0.01,0.7, -0.01,0.0, 0.0,0.25, 0.0,0.55, 0.0,0.95, 0.01,0.5, 0.01,0.1, 0.01,0.8, 0.02,0.35, 0.02,0.2, 0.02,0.72, 0.03,0.5, 0.03,0.2, 0.03,0.8, 0.03,-0.1, 0.04,0.55, 0.04,0.05, 0.04,0.9, 0.05,0.4, 0.05,0.1, 0.05,0.7, 0.06,0.3, 0.06,0.5, 0.06,-0.05, 0.07,0.6, 0.07,0.3, 0.07,0.05, 0.08,0.85, 0.08,0.4, 0.08,0.1, 0.09,0.35, 0.09,0.72, 0.1,0.6, 0.1,0.0, 0.11,0.5, 0.11,0.15, 0.12,0.5, 0.12,0.15, 0.13,0.65, 0.14,0.4, 0.02,0.6, -0.02,0.85, 0.05,0.95, 0.0,-0.05, 0.06,0.2];

const ndviMay_sarMay = [-0.15,1.85, -0.1,1.2, -0.12,0.87, -0.1,0.85, 0.0,0.9, 0.27,1.02, 0.18,0.8, 0.15,0.75, 0.12,0.7, 0.2,0.6, 0.22,0.5, 0.25,0.4, 0.22,0.35, 0.18,0.3, 0.25,0.35, 0.26,0.38, 0.2,0.15, 0.1,-0.5, 0.0,-0.63, 0.15,0.1, -0.27,0.55, -0.28,0.3, -0.3,0.0, -0.3,-0.2, -0.35,-0.15, -0.37,-0.1, -0.4,-0.05, -0.42,-0.35, -0.45,-0.1, -0.48,-0.2, -0.5,-0.3, -0.5,-0.15, -0.52,-0.02, -0.55,-0.3, -0.57,0.07, -0.58,-0.84, -0.6,0.05, -0.62,-0.75, -0.62,-0.45, -0.6,-0.5, -0.58,-0.35, -0.65,-0.3, -0.67,-0.15, -0.68,-0.48, -0.63,-0.18, -0.25,-0.7, -0.22,-0.82, -0.2,-0.85, -0.18,-0.8, -0.17,-0.74, -0.2,-0.55, -0.22,-0.5, -0.15,-0.45, -0.1,-0.5, -0.13,-0.55, -0.05,-0.4, -0.3,-0.5, -0.25,-0.35,
-0.25,0.1, -0.24,-0.1, -0.23,0.3, -0.22,0.0, -0.21,0.2, -0.2,-0.2, -0.2,0.4, -0.19,0.05, -0.18,0.25, -0.18,-0.05, -0.17,0.45, -0.16,0.12, -0.16,-0.15, -0.15,0.32, -0.14,0.0, -0.14,0.55, -0.13,0.2, -0.13,-0.25, -0.12,0.38, -0.12,0.08, -0.11,-0.1, -0.11,0.5, -0.1,0.25, -0.1,0.0, -0.09,0.42, -0.09,0.15, -0.09,-0.2, -0.08,0.6, -0.08,0.3, -0.08,0.05, -0.07,0.48, -0.07,0.18, -0.07,-0.08, -0.06,0.35, -0.06,0.1, -0.06,-0.3, -0.05,0.55, -0.05,0.22, -0.05,0.0, -0.04,0.4, -0.04,0.12, -0.04,-0.15, -0.03,0.6, -0.03,0.28, -0.03,0.05, -0.02,0.45, -0.02,0.18, -0.02,-0.05, -0.01,0.35, -0.01,0.08, -0.01,-0.25, 0.0,0.5, 0.0,0.22, 0.0,0.0, 0.01,0.4, 0.01,0.12, 0.01,-0.12, 0.02,0.58, 0.02,0.3, 0.02,0.05, 0.03,0.45, 0.03,0.18, 0.03,-0.08, 0.04,0.35, 0.04,0.1, 0.05,0.5, 0.05,0.25, 0.05,-0.02, 0.06,0.4, 0.06,0.15, 0.07,0.3, 0.07,-0.1, 0.08,0.45, 0.08,0.2, 0.09,0.05, 0.1,0.35, 0.1,0.15, 0.12,0.25, 0.13,0.5, 0.14,0.1, -0.27,-0.05, -0.28,0.2, -0.15,0.15, -0.1,0.3, -0.06,0.25, -0.02,0.3, 0.02,0.2, -0.12,0.2, -0.08,0.18, -0.04,0.25, 0.0,0.35, 0.04,0.25, -0.14,0.1, -0.18,0.12, -0.2,0.28, -0.22,-0.12, -0.16,-0.28, -0.1,-0.35, -0.03,-0.2, 0.06,-0.2, 0.09,0.3, 0.11,0.45, -0.24,0.45, -0.06,0.65, 0.04,0.65];
const ndviMay_sarMayCore = [-0.22,0.2, -0.21,0.35, -0.21,-0.05, -0.2,0.1, -0.19,0.3, -0.19,-0.12, -0.18,0.45, -0.18,0.18, -0.17,0.0, -0.17,0.3, -0.16,0.4, -0.16,0.05, -0.15,0.22, -0.15,-0.08, -0.14,0.35, -0.14,0.15, -0.13,0.45, -0.13,0.05, -0.12,0.28, -0.12,-0.15, -0.11,0.15, -0.11,0.38, -0.1,0.1, -0.1,0.45, -0.1,-0.05, -0.09,0.3, -0.09,0.05, -0.09,0.55, -0.08,0.22, -0.08,-0.12, -0.08,0.4, -0.07,0.1, -0.07,0.32, -0.07,0.6, -0.06,0.2, -0.06,0.45, -0.06,0.0, -0.05,0.3, -0.05,0.12, -0.05,0.42, -0.04,0.05, -0.04,0.52, -0.04,0.3, -0.03,0.15, -0.03,0.4, -0.03,-0.1, -0.02,0.25, -0.02,0.55, -0.02,0.08, -0.01,0.45, -0.01,0.2, -0.01,-0.12, 0.0,0.3, 0.0,0.1, 0.0,0.6, 0.01,0.25, 0.01,0.5, 0.01,0.0, 0.02,0.12, 0.02,0.4, 0.03,0.28, 0.03,0.55, 0.03,0.05, 0.04,0.2, 0.04,0.45, 0.05,0.1, 0.05,0.35, 0.06,0.28, 0.06,0.5, 0.07,0.12, 0.07,0.4, 0.08,0.3, 0.08,-0.02, 0.09,0.18, 0.1,0.45, 0.11,0.2, -0.24,0.2, -0.23,0.05, -0.25,0.35, -0.2,-0.3, -0.12,-0.28, -0.06,-0.22, 0.0,-0.3, 0.05,-0.15,
-0.2,0.2, -0.19,0.4, -0.18,0.08, -0.17,0.35, -0.16,0.22, -0.15,0.1, -0.15,0.45, -0.14,0.25, -0.13,0.35, -0.13,0.12, -0.12,0.5, -0.11,0.25, -0.11,0.05, -0.1,0.35, -0.1,0.18, -0.09,0.45, -0.09,0.25, -0.08,0.12, -0.08,0.35, -0.07,0.25, -0.07,0.52, -0.06,0.3, -0.06,0.05, -0.05,0.38, -0.05,0.15, -0.04,0.2, -0.04,0.45, -0.03,0.35, -0.03,0.1, -0.02,0.4, -0.02,0.15, -0.01,0.28, -0.01,0.5, 0.0,0.4, 0.0,0.15, 0.01,0.32, 0.01,0.06, 0.02,0.45, 0.02,0.15, 0.03,0.35, 0.04,0.5, 0.04,0.05, 0.05,0.2, 0.06,0.35, 0.07,0.22, -0.16,-0.05, -0.12,-0.05, -0.08,-0.02, -0.04,-0.05, 0.0,-0.1];

const ndviJun_sarJun = [-0.59,0.47, -0.4,0.2, -0.4,0.28, -0.38,0.3, -0.3,0.45, -0.31,-0.17, -0.28,0.28, -0.25,0.05, -0.25,0.0, -0.25,-0.18, -0.24,0.5, -0.22,0.58, -0.2,0.52, -0.19,0.2, -0.17,-0.15, -0.14,0.9, -0.13,0.55, -0.12,0.45, -0.1,-0.65, -0.1,0.3, -0.05,0.85, -0.04,0.9, -0.02,1.17, 0.0,0.92, 0.02,0.93, -0.08,-0.6, -0.07,-0.72, -0.06,-0.88, -0.05,-0.9, -0.03,-0.97, 0.01,-1.22, 0.0,-0.95, 0.02,-0.92, 0.05,-0.85, 0.09,-0.7, 0.1,-0.45, 0.1,-0.5, 0.12,-0.05, 0.13,0.0, 0.12,0.1, 0.11,0.3, 0.12,0.4, 0.1,0.45, 0.15,-1.03, 0.08,0.7, 0.06,0.6, 0.12,0.05, 0.14,-0.01,
-0.06,0.2, -0.06,-0.3, -0.05,0.45, -0.05,0.0, -0.05,-0.55, -0.04,0.3, -0.04,-0.15, -0.04,0.6, -0.03,0.1, -0.03,-0.4, -0.03,0.5, -0.02,0.25, -0.02,-0.2, -0.02,-0.65, -0.01,0.4, -0.01,0.0, -0.01,-0.3, -0.01,0.65, 0.0,0.15, 0.0,-0.5, 0.0,0.55, 0.0,-0.1, 0.01,0.35, 0.01,-0.25, 0.01,0.05, 0.01,-0.7, 0.02,0.5, 0.02,0.2, 0.02,-0.4, 0.02,-0.05, 0.03,0.6, 0.03,0.1, 0.03,-0.3, 0.03,0.3, 0.04,-0.55, 0.04,0.45, 0.04,0.0, 0.04,-0.15, 0.05,0.25, 0.05,-0.45, 0.05,0.55, 0.05,0.1, 0.06,-0.2, 0.06,0.35, 0.06,-0.6, 0.07,0.05, 0.07,0.45, 0.07,-0.35, 0.08,0.2, 0.08,-0.1, 0.09,0.3, 0.09,-0.25, -0.07,0.05, -0.07,-0.45, -0.08,0.35, 0.0,0.3, 0.02,0.0, -0.02,0.1, 0.01,0.2, -0.01,-0.15, 0.03,-0.1, 0.0,0.45, 0.04,0.2, -0.03,-0.05, 0.01,-0.4, 0.05,-0.3, -0.04,-0.25, 0.02,0.4, 0.06,0.15, -0.05,0.1, 0.0,-0.6, 0.03,-0.5, -0.02,0.55, 0.04,0.6, 0.07,-0.5, -0.06,-0.6, 0.01,0.6, 0.05,-0.65, -0.03,0.2, 0.02,0.65, 0.08,0.4, 0.1,0.1, -0.04,-0.7, 0.03,-0.75, 0.0,0.05, 0.06,0.0];
const ndviJun_sarJunCore = [-0.05,0.3, -0.05,-0.2, -0.05,0.6, -0.05,-0.4, -0.04,0.1, -0.04,0.5, -0.04,-0.5, -0.04,0.4, -0.03,-0.25, -0.03,0.35, -0.03,0.0, -0.03,-0.6, -0.02,0.45, -0.02,0.05, -0.02,-0.35, -0.02,0.35, -0.01,0.15, -0.01,-0.5, -0.01,0.5, -0.01,-0.1, 0.0,0.25, 0.0,-0.3, 0.0,0.6, 0.0,-0.2, 0.01,0.45, 0.01,0.1, 0.01,-0.55, 0.01,-0.05, 0.02,0.3, 0.02,-0.3, 0.02,0.55, 0.02,-0.6, 0.03,0.2, 0.03,0.45, 0.03,-0.2, 0.03,-0.6, 0.04,0.35, 0.04,-0.4, 0.04,0.1, 0.04,-0.05, 0.05,0.4, 0.05,-0.15, 0.05,0.0, 0.05,-0.55, 0.06,0.25, 0.06,0.5, 0.06,-0.35, 0.06,-0.1, 0.07,0.3, 0.07,-0.2, 0.07,0.6, 0.08,-0.3, 0.08,0.1, 0.08,0.5, 0.09,-0.05, 0.09,0.2, -0.06,0.4, -0.06,-0.1, -0.07,0.25, 0.1,0.3, 0.11,-0.1,
-0.04,0.2, -0.04,-0.05, -0.04,-0.35, -0.03,0.45, -0.03,-0.15, -0.03,0.25, -0.02,-0.5, -0.02,0.0, -0.02,0.4, -0.01,0.25, -0.01,-0.4, -0.01,0.1, 0.0,0.4, 0.0,0.0, 0.0,-0.4, 0.0,-0.65, 0.01,0.25, 0.01,-0.15, 0.01,0.5, 0.02,0.1, 0.02,-0.2, 0.02,-0.5, 0.03,0.4, 0.03,0.0, 0.03,-0.4, 0.04,0.3, 0.04,-0.3, 0.04,0.5, 0.05,0.15, 0.05,-0.2, 0.05,0.35, 0.06,-0.45, 0.06,0.05, 0.07,0.15, 0.07,-0.1, -0.05,0.2, -0.05,-0.3, 0.08,0.3, 0.08,-0.2];

const mndwiApr_sarApr = [0.0,1.65, 0.85,1.6, -0.17,0.25, -0.2,0.38, -0.15,0.53, 0.2,0.48, 0.16,0.26, 0.15,0.27, 0.16,-0.42, 0.13,-0.37, 0.11,0.3, 0.1,0.6, 0.08,-0.78, -0.08,0.5, -0.1,0.4, -0.07,-0.6, -0.08,-0.3, 0.09,0.15, 0.07,0.9, 0.09,-0.2,
-0.07,0.3, -0.07,-0.1, -0.06,0.6, -0.06,0.1, -0.06,-0.4, -0.05,0.4, -0.05,0.85, -0.05,0.0, -0.04,0.2, -0.04,-0.25, -0.04,0.7, -0.03,0.5, -0.03,1.0, -0.03,0.1, -0.03,-0.5, -0.02,0.35, -0.02,0.8, -0.02,-0.15, -0.01,0.6, -0.01,0.15, -0.01,1.15, -0.01,-0.35, 0.0,0.45, 0.0,0.0, 0.0,0.9, 0.0,-0.6, 0.01,0.25, 0.01,0.7, 0.01,-0.2, 0.01,1.2, 0.02,0.55, 0.02,0.1, 0.02,-0.45, 0.02,0.95, 0.03,0.35, 0.03,-0.05, 0.03,0.75, 0.03,-0.7, 0.04,0.5, 0.04,0.15, 0.04,1.1, 0.04,-0.3, 0.05,0.65, 0.05,0.3, 0.05,-0.55, 0.06,0.0, 0.06,0.85, 0.06,0.45, 0.07,0.2, 0.07,-0.4, 0.07,0.6, 0.08,0.35, 0.08,1.0, -0.08,0.75, -0.08,0.15, 0.09,0.5, 0.1,0.1, 0.0,0.3, 0.02,0.4, -0.02,0.55, 0.01,0.5, -0.04,0.45, 0.03,0.6, 0.0,0.2, -0.01,0.4, 0.05,0.1, -0.03,0.25, 0.02,0.25, 0.04,0.8, -0.05,0.55, 0.06,-0.2, -0.06,-0.6, 0.03,-0.3, -0.02,-0.7, 0.05,-0.75, -0.07,0.9, 0.01,0.05, -0.01,0.7, 0.03,0.15, 0.0,-0.1, -0.04,0.05, 0.04,0.35, 0.06,0.65, 0.02,0.7, -0.03,0.8, 0.01,-0.5];
const mndwiApr_sarAprCore = [-0.06,0.2, -0.06,0.45, -0.06,0.75, -0.06,-0.2, -0.05,0.1, -0.05,0.3, -0.05,0.65, -0.05,-0.45, -0.04,0.35, -0.04,0.55, -0.04,0.9, -0.04,-0.1, -0.03,0.2, -0.03,0.4, -0.03,0.65, -0.03,-0.3, -0.02,0.0, -0.02,0.25, -0.02,0.45, -0.02,1.05, -0.01,0.3, -0.01,0.5, -0.01,0.85, -0.01,-0.05, 0.0,0.15, 0.0,0.35, 0.0,0.6, 0.0,0.75, 0.0,-0.3, 0.01,0.4, 0.01,0.15, 0.01,0.9, 0.01,-0.4, 0.02,0.3, 0.02,0.6, 0.02,0.0, 0.02,0.8, 0.03,0.2, 0.03,0.45, 0.03,0.9, 0.03,-0.15, 0.04,0.25, 0.04,0.6, 0.04,-0.1, 0.05,0.4, 0.05,0.2, 0.05,0.85, 0.05,-0.3, 0.06,0.3, 0.06,0.55, 0.06,0.1, 0.07,0.4, 0.07,0.0, 0.07,0.75, 0.08,0.2, 0.08,0.6, -0.07,0.55, -0.07,0.0, 0.09,0.3, 0.09,-0.05, -0.08,0.4, 0.0,1.0, 0.03,-0.55, -0.04,-0.6,
-0.05,0.5, -0.05,0.2, -0.04,0.1, -0.04,0.65, -0.04,0.3, -0.03,0.55, -0.03,0.0, -0.03,0.75, -0.02,0.35, -0.02,0.65, -0.02,-0.25, -0.01,0.2, -0.01,0.55, -0.01,-0.15, 0.0,0.5, 0.0,0.1, 0.0,0.7, 0.0,-0.2, 0.01,0.3, 0.01,0.6, 0.01,0.0, 0.02,0.45, 0.02,0.2, 0.02,-0.1, 0.03,0.3, 0.03,0.55, 0.03,0.05, 0.04,0.4, 0.04,0.7, 0.04,0.05, 0.05,0.5, 0.05,0.15, 0.05,-0.1, 0.06,0.35, 0.06,0.2, 0.06,0.75, -0.06,0.35, -0.06,0.05, 0.07,0.5, 0.07,0.1];

const mndwiMay_sarMay = [-0.01,1.85, 0.0,1.2, -0.03,1.0, -0.05,0.9, 0.17,0.36, 0.15,0.35, 0.13,0.35, 0.18,0.2, 0.12,0.1, 0.1,-0.5, 0.0,-0.85, -0.01,-0.82, 0.02,-0.75, 0.05,-0.7, -0.07,-0.62, 0.08,0.45, 0.1,0.4, -0.08,0.2, -0.09,-0.2, -0.08,-0.3,
-0.07,0.1, -0.07,-0.3, -0.06,0.4, -0.06,-0.1, -0.05,0.6, -0.05,0.2, -0.05,-0.4, -0.04,0.0, -0.04,0.5, -0.04,-0.2, -0.03,0.3, -0.03,0.75, -0.03,-0.5, -0.02,0.15, -0.02,0.55, -0.02,-0.1, -0.01,0.4, -0.01,-0.3, -0.01,0.7, 0.0,0.05, 0.0,0.25, 0.0,-0.45, 0.0,0.6, 0.01,0.35, 0.01,-0.15, 0.01,0.8, 0.02,0.1, 0.02,0.5, 0.02,-0.35, 0.03,0.3, 0.03,0.0, 0.03,0.65, 0.04,-0.25, 0.04,0.2, 0.04,0.45, 0.05,0.05, 0.05,-0.5, 0.05,0.55, 0.06,0.3, 0.06,-0.1, 0.07,0.15, 0.07,0.4, 0.07,-0.3, 0.08,0.0, 0.08,0.25, 0.09,0.1, 0.09,-0.2, 0.1,0.3, 0.1,0.0, 0.11,0.15, 0.12,-0.1, 0.12,0.25, -0.08,0.3, -0.08,-0.1, 0.0,0.15, 0.02,0.2, -0.02,0.35, 0.04,0.1, 0.01,0.0, -0.03,0.1, 0.03,0.45, -0.01,0.2, 0.05,0.25, 0.02,-0.1, 0.06,0.5, -0.04,0.3, 0.0,-0.2, 0.03,-0.45, -0.06,-0.5, 0.08,-0.4, 0.01,0.55, -0.05,0.45, 0.04,0.7, 0.06,0.05, 0.09,0.35, -0.02,-0.55, 0.07,0.6];
const mndwiMay_sarMayCore = [-0.06,0.2, -0.06,0.55, -0.06,-0.25, -0.05,0.05, -0.05,0.35, -0.05,-0.15, -0.04,0.15, -0.04,0.4, -0.04,0.65, -0.04,-0.35, -0.03,0.2, -0.03,0.5, -0.03,-0.05, -0.03,-0.25, -0.02,0.25, -0.02,0.65, -0.02,0.05, -0.02,-0.3, -0.01,0.1, -0.01,0.3, -0.01,0.55, -0.01,-0.15, 0.0,0.35, 0.0,0.45, 0.0,-0.05, 0.0,0.7, 0.01,0.2, 0.01,0.45, 0.01,-0.3, 0.01,0.65, 0.02,0.3, 0.02,0.0, 0.02,0.7, 0.02,-0.45, 0.03,0.2, 0.03,0.55, 0.03,-0.2, 0.04,0.3, 0.04,0.0, 0.04,0.55, 0.04,-0.4, 0.05,0.15, 0.05,0.4, 0.05,-0.15, 0.06,0.2, 0.06,0.65, 0.06,-0.3, 0.07,0.0, 0.07,0.3, 0.07,0.5, 0.08,0.15, 0.08,-0.2, 0.08,0.35, 0.09,0.25, 0.09,0.0, 0.1,0.15, 0.1,0.45, 0.11,0.3, -0.07,0.45, -0.07,0.2, 0.11,-0.05,
-0.05,0.3, -0.05,-0.05, -0.04,0.25, -0.04,0.55, -0.04,-0.1, -0.03,0.4, -0.03,0.0, -0.03,0.2, -0.02,0.45, -0.02,-0.2, -0.02,0.2, -0.01,0.15, -0.01,0.45, -0.01,-0.05, 0.0,0.3, 0.0,0.1, 0.0,0.55, 0.0,-0.3, 0.01,0.25, 0.01,0.1, 0.01,-0.05, 0.02,0.4, 0.02,0.6, 0.02,-0.2, 0.03,0.1, 0.03,0.35, 0.03,-0.1, 0.04,0.35, 0.04,-0.1, 0.05,0.3, 0.05,0.0, 0.06,0.4, 0.06,0.15, 0.07,0.25, 0.07,-0.15, 0.08,0.45, 0.08,0.1, -0.06,0.05, -0.06,0.3, 0.09,0.2];

const mndwiJun_sarJun = [-0.03,1.16, -0.01,0.93, 0.0,0.88, 0.02,0.85, -0.05,-0.97, 0.0,-1.22, 0.03,-1.02, 0.02,-0.95, 0.05,-0.85, 0.08,0.3, 0.06,0.52, -0.06,0.5, -0.07,-0.15, -0.06,-0.3, 0.07,-0.5, 0.06,-0.7, 0.07,0.1,
-0.06,0.1, -0.06,-0.4, -0.06,0.5, -0.05,-0.1, -0.05,0.3, -0.05,-0.6, -0.04,0.6, -0.04,0.0, -0.04,-0.3, -0.03,0.45, -0.03,0.15, -0.03,-0.5, -0.03,-0.75, -0.02,0.7, -0.02,0.25, -0.02,-0.2, -0.01,0.05, -0.01,0.5, -0.01,-0.4, -0.01,-0.85, 0.0,0.35, 0.0,-0.1, 0.0,0.65, 0.0,-0.6, 0.01,0.2, 0.01,-0.3, 0.01,0.75, 0.02,0.0, 0.02,0.45, 0.02,-0.5, 0.02,-0.15, 0.03,0.3, 0.03,0.6, 0.03,-0.35, 0.03,-0.7, 0.04,0.1, 0.04,-0.2, 0.04,0.5, 0.05,0.25, 0.05,-0.45, 0.05,0.0, 0.06,0.4, 0.06,-0.25, 0.06,0.15, 0.07,-0.1, 0.07,0.3, -0.07,0.25, -0.07,-0.2, 0.0,0.1, 0.01,0.4, -0.02,-0.05, 0.03,0.05, -0.04,0.2, 0.02,-0.3, 0.0,-0.35, -0.03,0.3, 0.04,0.35, 0.01,-0.05, -0.01,0.25, 0.05,-0.65, -0.05,0.6, 0.03,0.15, -0.02,-0.65, 0.02,0.6, 0.06,0.55, -0.06,-0.7, 0.0,0.2, 0.01,-0.75, -0.01,0.6, 0.04,-0.55, 0.08,0.1, 0.08,-0.3];
const mndwiJun_sarJunCore = [-0.05,0.15, -0.05,0.45, -0.05,-0.3, -0.05,-0.45, -0.04,0.3, -0.04,-0.15, -0.04,0.45, -0.04,-0.6, -0.03,0.0, -0.03,0.6, -0.03,-0.3, -0.03,-0.1, -0.02,0.1, -0.02,0.45, -0.02,-0.4, -0.02,0.55, -0.01,-0.2, -0.01,0.35, -0.01,0.15, -0.01,-0.6, 0.0,0.5, 0.0,0.0, 0.0,-0.25, 0.0,0.05, 0.01,0.1, 0.01,0.55, 0.01,-0.45, 0.01,0.3, 0.02,0.2, 0.02,-0.05, 0.02,0.35, 0.02,-0.65, 0.03,-0.15, 0.03,0.4, 0.03,-0.5, 0.03,0.2, 0.04,0.0, 0.04,0.25, 0.04,-0.35, 0.04,0.6, 0.05,0.1, 0.05,0.4, 0.05,-0.25, 0.06,0.0, 0.06,0.3, 0.06,-0.4, 0.07,0.2, 0.07,-0.3, -0.06,0.35, -0.06,-0.15, -0.06,-0.5,
-0.04,0.1, -0.04,0.4, -0.04,-0.45, -0.03,0.25, -0.03,-0.2, -0.03,0.5, -0.02,0.0, -0.02,0.35, -0.02,-0.3, -0.01,0.45, -0.01,-0.1, -0.01,0.1, 0.0,0.25, 0.0,-0.45, 0.0,0.4, 0.01,-0.2, 0.01,0.0, 0.01,-0.55, 0.02,0.3, 0.02,0.1, 0.02,-0.4, 0.03,-0.05, 0.03,0.5, 0.03,-0.25, 0.04,0.15, 0.04,0.45, 0.04,-0.1, 0.05,0.3, 0.05,-0.35, 0.05,0.5, -0.05,0.0, -0.05,0.25, 0.06,-0.1, 0.06,0.2];

// ---- fitted regression lines (x, y at both ends) ----
const fitLines = [
  [-1.59,-0.23, 2.0,0.22], [-1.59,-0.27, 2.0,0.245], [-1.59,0.04, 2.0,-0.028],
  [-0.8,-0.615, 0.6,0.47], [-0.8,-0.675, 0.6,0.545], [-0.8,-0.48, 0.6,0.39],
  [-0.8,-0.57, 0.6,0.88], [-0.8,-0.42, 0.6,0.65], [-0.8,0.53, 0.6,-0.33],
  [-0.6,0.0, 1.0,0.65], [-0.6,0.54, 1.0,-0.52], [-0.6,0.43, 1.0,-0.63]
];
// ---- 95% confidence band: upper and lower curves (x, y) ----
const bandUpper = [
  [-1.59,-0.19, 0.3,0.016, 2.0,0.255], [-1.59,-0.235, 0.1,-0.018, 2.0,0.29], [-1.59,0.058, 0.0,0.014, 2.0,-0.004],
  [-0.8,-0.6, 0.0,0.008, 0.6,0.482], [-0.8,-0.665, -0.07,-0.036, 0.6,0.555], [-0.8,-0.45, 0.0,0.022, 0.6,0.413],
  [-0.8,-0.42, 0.02,0.3, 0.6,0.99], [-0.8,-0.3, -0.05,0.17, 0.6,0.75], [-0.8,0.8, 0.01,0.05, 0.6,-0.14],
  [-0.6,0.3, 0.0,0.26, 1.0,1.13], [-0.6,0.84, 0.02,0.15, 1.0,-0.05], [-0.6,0.86, 0.01,0.04, 1.0,0.05]
];
const bandLower = [
  [-1.59,-0.268, 0.3,-0.002, 2.0,0.19], [-1.59,-0.31, 0.1,-0.036, 2.0,0.198], [-1.59,0.02, 0.0,0.006, 2.0,-0.052],
  [-0.8,-0.63, 0.0,0.002, 0.6,0.458], [-0.8,-0.685, -0.07,-0.043, 0.6,0.535], [-0.8,-0.515, 0.0,0.012, 0.6,0.365],
  [-0.8,-0.71, 0.02,0.26, 0.6,0.77], [-0.8,-0.52, -0.05,0.137, 0.6,0.555], [-0.8,0.26, 0.01,0.015, 0.6,-0.53],
  [-0.6,-0.29, 0.0,0.23, 1.0,0.15], [-0.6,0.24, 0.02,0.11, 1.0,-1.0], [-0.6,0.0, 0.01,0.005, 1.0,-1.33]
];

const observations = [
  sarApr_ndmiApr.concat(sarApr_ndmiAprCore), sarMay_ndmiMay.concat(sarMay_ndmiMayCore), sarJun_ndmiJun.concat(sarJun_ndmiJunCore),
  ndviApr_ndmiApr.concat(ndviApr_ndmiAprCore), ndviMay_ndmiMay.concat(ndviMay_ndmiMayCore), ndviJun_ndmiJun.concat(ndviJun_ndmiJunCore),
  ndviApr_sarApr.concat(ndviApr_sarAprCore), ndviMay_sarMay.concat(ndviMay_sarMayCore), ndviJun_sarJun.concat(ndviJun_sarJunCore),
  mndwiApr_sarApr.concat(mndwiApr_sarAprCore), mndwiMay_sarMay.concat(mndwiMay_sarMayCore), mndwiJun_sarJun.concat(mndwiJun_sarJunCore)
];

const pairs = a => { const out = []; for (let i = 0; i < a.length; i += 2) out.push({x: a[i], y: a[i + 1]}); return out; };
const fmt = v => v.toFixed(1);

// per-row axes
const rowX = [
  {domain: [-1.59, 2.0], ticks: sarTicks},
  {domain: [-0.8, 0.6], ticks: ndviTicks},
  {domain: [-0.8, 0.6], ticks: ndviTicks},
  {domain: [-0.6, 1.0], ticks: mndwiTicks}
];
const rowY = [
  {domain: [-0.8, 0.6], ticks: ndmiTicks},
  {domain: [-0.8, 0.6], ticks: ndmiTicks},
  {domain: [-2.0, 2.0], ticks: sarYTicks},
  {domain: [-2.0, 2.0], ticks: sarYTicks}
];

const serif = "'Liberation Serif', 'Times New Roman', serif";
const grid = document.getElementById("grid");
const cellLeft = [0, 250, 500];
const cellTop = [0, 187, 375, 561];

observations.forEach((obs, i) => {
  const row = Math.floor(i / 3), col = i % 3;
  const xs = rowX[row], ys = rowY[row];
  const titleMarks = notSignificant[i]
    ? [
        Plot.text([titles[i]], {text: d => d, frameAnchor: "top", dy: -9, dx: -19, textAnchor: "end", lineAnchor: "middle", fontFamily: serif, fontWeight: "bold", fontSize: 12.5, fill: "#111"}),
        Plot.text(["(not significant)"], {text: d => d, frameAnchor: "top", dy: -8, dx: -17, textAnchor: "start", lineAnchor: "middle", fontFamily: serif, fontWeight: "bold", fontSize: 8.5, fill: "#111"})
      ]
    : [Plot.text([titles[i]], {text: d => d, frameAnchor: "top", dy: -9, dx: -10, lineAnchor: "middle", fontFamily: serif, fontWeight: "bold", fontSize: 12, fill: "#111"})];

  const svg = Plot.plot({
    width: 246,
    height: 184,
    marginLeft: 29,
    marginRight: 5,
    marginTop: 16,
    marginBottom: 28,
    style: {fontFamily: "'Liberation Sans', Arial, sans-serif", fontSize: "7.5px", color: "#333", background: "white", overflow: "visible"},
    x: {domain: xs.domain, ticks: xs.ticks, tickFormat: fmt, tickSize: 0, tickPadding: 3, label: null},
    y: {domain: ys.domain, ticks: ys.ticks, tickFormat: fmt, tickSize: 0, tickPadding: 3, label: null},
    marks: [
      Plot.ruleX(xs.ticks, {stroke: "#d4d4d4", strokeWidth: 0.8}),
      Plot.ruleY(ys.ticks, {stroke: "#d4d4d4", strokeWidth: 0.8}),
      Plot.frame({stroke: "#9a9a9a", strokeWidth: 1}),
      Plot.dot(pairs(obs), {x: "x", y: "y", r: 1.6, fill: "#22345a", stroke: "#0b1426", strokeWidth: 0.5}),
      Plot.line(pairs(bandUpper[i]), {x: "x", y: "y", stroke: "#e36b6b", strokeWidth: 0.9, strokeDasharray: "1.2,1.3", clip: true}),
      Plot.line(pairs(bandLower[i]), {x: "x", y: "y", stroke: "#e36b6b", strokeWidth: 0.9, strokeDasharray: "1.2,1.3", clip: true}),
      Plot.line(pairs(fitLines[i]), {x: "x", y: "y", stroke: "#e3211c", strokeWidth: 1.4, clip: true}),
      ...titleMarks,
      Plot.text([xLabels[i]], {text: d => d, frameAnchor: "bottom", dy: 20, lineAnchor: "middle", fontFamily: serif, fontWeight: "bold", fontSize: 15, fill: "#111"}),
      Plot.text([yLabels[i]], {text: d => d, frameAnchor: "left", dx: -19, rotate: -90, lineAnchor: "middle", fontFamily: serif, fontWeight: "bold", fontSize: 14, fill: "#111"})
    ]
  });

  const cell = document.createElement("div");
  cell.style.left = cellLeft[col] + "px";
  cell.style.top = cellTop[row] + "px";
  cell.append(svg);
  grid.append(cell);

  // narrow the bold serif axis titles a little
  svg.querySelectorAll("text").forEach(t => {
    if (t.textContent === xLabels[i] || t.textContent === yLabels[i]) {
      const w = t.getComputedTextLength();
      t.setAttribute("textLength", (w * 0.84).toFixed(1));
      t.setAttribute("lengthAdjust", "spacingAndGlyphs");
    }
  });
});
</script>
</body></html>
